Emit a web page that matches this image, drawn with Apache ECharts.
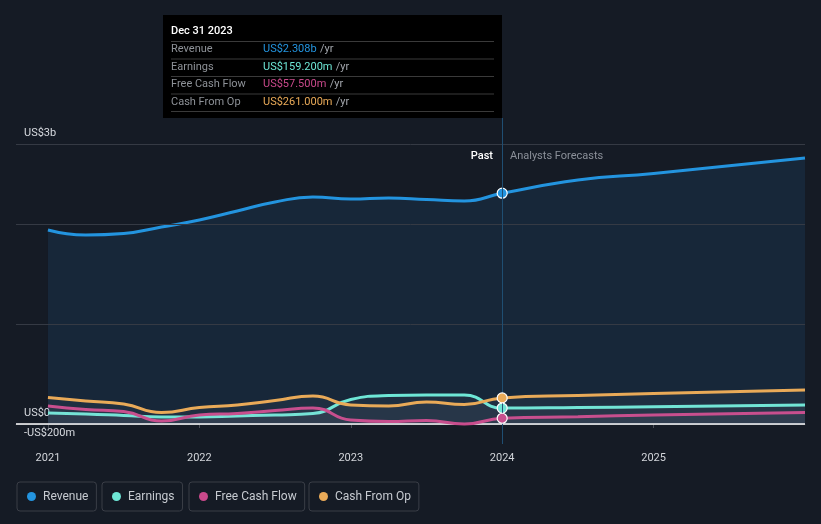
<!DOCTYPE html>
<html><head><meta charset="utf-8">
<script src="https://cdn.jsdelivr.net/npm/echarts@6/dist/echarts.min.js"></script>
<style>html,body{margin:0;padding:0;background:#151b25;}#c{width:821px;height:524px;}</style>
</head><body><div id="c"></div>
<script>
// ---- data (US$ billions, x in fractional years) ----
const dates = [2021, 2021.25, 2021.5, 2021.75, 2022, 2022.25, 2022.5, 2022.75, 2023, 2023.25, 2023.5, 2023.75, 2024, 2024.5, 2025, 2026];
const revenue = [1.94, 1.89, 1.905, 1.97, 2.04, 2.13, 2.22, 2.27, 2.25, 2.26, 2.245, 2.23, 2.308, 2.44, 2.505, 2.66];
const earnings = [0.11, 0.10, 0.085, 0.07, 0.07, 0.08, 0.09, 0.105, 0.245, 0.285, 0.29, 0.29, 0.1592, 0.165, 0.172, 0.19];
const freeCashFlow = [0.18, 0.145, 0.125, 0.03, 0.09, 0.105, 0.135, 0.16, 0.04, 0.025, 0.035, 0.0, 0.0575, 0.072, 0.09, 0.115];
const cashFromOp = [0.265, 0.23, 0.20, 0.115, 0.165, 0.19, 0.235, 0.28, 0.19, 0.18, 0.22, 0.195, 0.261, 0.285, 0.305, 0.34];
const seriesNames = ['Revenue', 'Earnings', 'Free Cash Flow', 'Cash From Op'];
const seriesColors = ['#2394df', '#6ee7d6', '#c9498b', '#e9aa58'];
const xTicks = [2021, 2022, 2023, 2024, 2025];
const yLabelValues = [-0.2, 0, 2.8];
const yLabelTexts = ['-US$200m', 'US$0', 'US$3b'];
const gridValues = [1, 2, 2.8];
const pastStart = 2023, nowX = 2024;
const tooltipTitle = 'Dec 31 2023';
const tooltipValues = ['US$2.308b', 'US$159.200m', 'US$57.500m', 'US$261.000m'];

const FONT = 'Roboto, "Noto Sans", sans-serif';
const allValues = [revenue, earnings, freeCashFlow, cashFromOp];
const nowIdx = dates.indexOf(nowX);

function buildData(vals, color) {
  return vals.map((v, i) => {
    if (i === nowIdx) {
      return { value: [dates[i], v], symbol: 'circle', symbolSize: 10,
        itemStyle: { color: color, borderColor: '#ffffff', borderWidth: 1.2 } };
    }
    return { value: [dates[i], v], symbol: 'none' };
  });
}

const areaColors = ['rgba(33,115,185,0.20)', 'rgba(200,205,210,0.07)', 'rgba(200,205,210,0.07)', 'rgba(200,205,210,0.07)'];
const order = [0, 3, 1, 2];
const series = order.map(k => ({
  type: 'line', name: seriesNames[k], z: 3 + k,
  smooth: 0.5,
  showSymbol: true, symbol: 'none',
  lineStyle: { color: seriesColors[k], width: 3 },
  itemStyle: { color: seriesColors[k] },
  areaStyle: { color: areaColors[k], origin: 0 },
  data: buildData(allValues[k], seriesColors[k]),
  animation: false
}));

// background helper series (regions + grid lines)
series.unshift({
  type: 'line', name: '_bg', z: 1, silent: true, animation: false,
  data: [[dates[0], 0]], symbol: 'none', lineStyle: { opacity: 0 },
  markArea: {
    silent: true,
    data: [
      [{ xAxis: 'min', yAxis: 'min', itemStyle: { color: { type: 'linear', x: 0, y: 0, x2: 1, y2: 0,
          colorStops: [{ offset: 0, color: 'rgba(0,0,0,0)' }, { offset: 1, color: 'rgba(0,0,0,0.22)' }] } } },
       { xAxis: pastStart, yAxis: 'max' }],
      [{ xAxis: pastStart, yAxis: 'min', itemStyle: { color: { type: 'linear', x: 0, y: 0, x2: 1, y2: 0,
          colorStops: [{ offset: 0, color: 'rgba(30,110,180,0.04)' }, { offset: 1, color: 'rgba(30,110,180,0.16)' }] } } },
       { xAxis: nowX, yAxis: 'max' }]
    ]
  },
  markLine: {
    silent: true, symbol: 'none', label: { show: false }, animation: false,
    data: gridValues.map(v => ({ yAxis: v, lineStyle: { color: '#353a44', width: 1, type: 'solid' } }))
      .concat([{ yAxis: 0, lineStyle: { color: '#ffffff', width: 1.5, type: 'solid' } },
               { xAxis: nowX, lineStyle: { color: '#1f4e72', width: 1, type: 'solid' } }])
  }
});

const legendLefts = [17, 102, 189, 309];
const legends = seriesNames.map((n, i) => ({
  data: [n], left: legendLefts[i], top: 482, orient: 'horizontal',
  icon: 'circle', itemWidth: 9, itemHeight: 9,
  padding: [8, 8, 8, 10], borderColor: '#3a3e47', borderWidth: 1, borderRadius: 3,
  textStyle: { color: '#c6cad0', fontSize: 12, fontFamily: FONT, lineHeight: 13, padding: [0, 0, 0, 2] },
  selectedMode: false
}));

// tooltip-like box
const tipX = 163, tipY = 15;
const tipChildren = [
  { type: 'rect', shape: { x: 0, y: 0, width: 339, height: 103 }, style: { fill: '#000000' } },
  { type: 'text', x: 8, y: 16, style: { text: tooltipTitle, fill: '#ffffff', font: '500 11px ' + FONT, verticalAlign: 'middle' } }
];
for (let i = 0; i < 5; i++) {
  tipChildren.push({ type: 'rect', shape: { x: 8, y: 26 + i * 17.5, width: 323, height: 1 }, style: { fill: '#3a3a3a' } });
}
seriesNames.forEach((n, i) => {
  const cy = 34.5 + i * 17.5;
  tipChildren.push({ type: 'text', x: 8, y: cy, style: { text: n, fill: '#8e9298', font: '11px ' + FONT, verticalAlign: 'middle' } });
  tipChildren.push({ type: 'text', x: 100, y: cy, style: {
    text: '{v|' + tooltipValues[i] + '} {u|/yr}', verticalAlign: 'middle',
    rich: { v: { fill: seriesColors[i], font: '11px ' + FONT }, u: { fill: '#a3a7ad', font: '11px ' + FONT } } } });
});

const option = {
  backgroundColor: '#151b25',
  animation: false,
  grid: { left: 16, right: 16, top: 118, bottom: 80 },
  xAxis: {
    type: 'value', min: 2020.789, max: 2026,
    axisLine: { show: true, lineStyle: { color: '#3b4049', width: 1 } },
    axisTick: { show: true, customValues: xTicks, length: 4, lineStyle: { color: '#4a4f58' } },
    axisLabel: { customValues: xTicks, color: '#d2d5da', fontSize: 11, fontFamily: FONT, margin: 9, formatter: v => String(v) },
    splitLine: { show: false }
  },
  yAxis: {
    type: 'value', min: -0.2, max: 3.06,
    axisLine: { show: false }, axisTick: { show: false }, splitLine: { show: false },
    axisLabel: {
      inside: true, margin: 8, customValues: yLabelValues, verticalAlign: 'bottom',
      padding: [0, 0, 5, 0], color: '#d8dbe0', fontSize: 11, fontFamily: FONT,
      formatter: v => { const i = yLabelValues.findIndex(x => Math.abs(x - v) < 1e-6); return i >= 0 ? yLabelTexts[i] : ''; }
    }
  },
  legend: legends,
  graphic: [
    { type: 'group', left: tipX, top: tipY, children: tipChildren },
    { type: 'text', x: 493, y: 156, style: { text: 'Past', fill: '#ffffff', font: '500 11px ' + FONT, align: 'right', verticalAlign: 'middle' } },
    { type: 'text', x: 510, y: 156, style: { text: 'Analysts Forecasts', fill: '#8b9099', font: '11px ' + FONT, align: 'left', verticalAlign: 'middle' } }
  ],
  series: series
};
const chart = echarts.init(document.getElementById('c'), null, { renderer: 'canvas' });
chart.setOption(option);
</script></body></html>
